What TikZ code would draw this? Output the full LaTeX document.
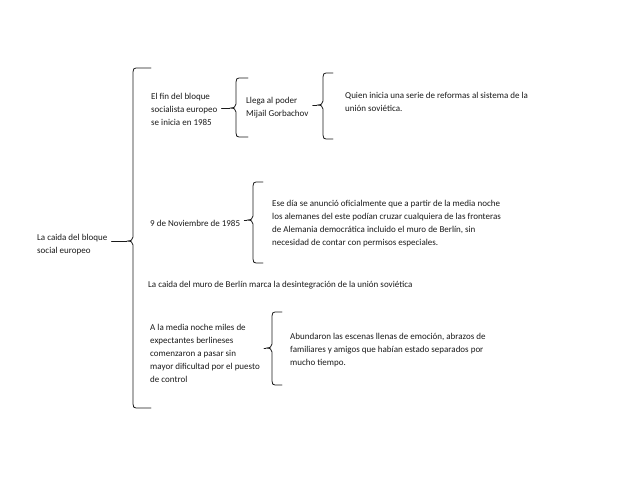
\documentclass[tikz,border=0pt]{standalone}
\usepackage{fontspec}
\setmainfont{Carlito}
\usepackage{tikz}
\usetikzlibrary{positioning,calc}
\definecolor{tinta}{HTML}{1A1A1A}
\tikzset{
    every picture/.style={line cap=round,line join=round},
    texto/.style={anchor=base west,align=left,text=tinta,
      font=\fontsize{9}{13}\selectfont,inner xsep=4pt,inner ysep=1pt},
    llavelinea/.style={draw=tinta,line width=0.8pt},
    enlace/.style={draw=tinta,line width=0.8pt}
}
% llave: #1 barra x, #2 arriba, #3 punta, #4 abajo, #5 largo del extremo
\newcommand\llave[5]{%
  \draw[llavelinea] ({#1+#5},#2) -- ({#1+3},#2)
    .. controls ({#1+1},#2) and (#1,{#2+1}) .. (#1,{#2+4})
    -- (#1,{#3-4}) .. controls (#1,{#3-1}) and ({#1-2},#3) .. ({#1-6},#3)
    .. controls ({#1-2},#3) and (#1,{#3+1}) .. (#1,{#3+4})
    -- (#1,{#4-4}) .. controls (#1,{#4-1}) and ({#1+1},#4) .. ({#1+3},#4)
    -- ({#1+#5},#4);
}

\begin{document}
\begin{tikzpicture}[x=1pt,y=-1pt]
    \useasboundingbox (0,0) rectangle (638,493);
    % llaves
    \llave{133}{68}{241}{408}{18}
    \llave{236}{78}{108}{137}{12}
    \llave{323}{73}{105}{139}{10}
    \llave{253}{182}{220}{263}{10}
    \llave{272}{312}{348}{385}{10}
    \coordinate (p0) at (127,241);
    \coordinate (p1) at (230,108);
    \coordinate (p2) at (317,105);
    \coordinate (p3) at (247,220);
    \coordinate (p4) at (266,348);
    % textos (base = ultima linea)
    \node[texto] (caida) at (33,253) {La caida del bloque\\social europeo};
    \node[texto] (fin) at (147,125) {El fin del bloque\\socialista europeo\\se inicia en 1985};
    \node[texto] (llega) at (242,116) {Llega al poder\\Mijail Gorbachov};
    \node[texto] (quien) at (341,111) {Quien inicia una serie de reformas al sistema de la\\unión soviética.};
    \node[texto] (nov) at (146,226) {9 de Noviembre de 1985};
    \node[texto] (dia) at (268,245) {Ese día se anunció oficialmente que a partir de la media noche\\los alemanes del este podían cruzar cualquiera de las fronteras\\de Alemania democrática incluido el muro de Berlín, sin\\necesidad de contar con permisos especiales.};
    \node[texto] (muro) at (144,287) {La caida del muro de Berlín marca la desintegración de la unión soviética};
    \node[texto] (media) at (146,382) {A la media noche miles de\\expectantes berlineses\\comenzaron a pasar sin\\mayor dificultad por el puesto\\de control};
    \node[texto] (abund) at (286,365) {Abundaron las escenas llenas de emoción, abrazos de\\familiares y amigos que habían estado separados por\\mucho tiempo.};
    % enlaces
    \draw[enlace] (caida.east |- p0) -- (p0);
    \draw[enlace] (fin.east |- p1) -- (p1);
    \draw[enlace] (llega.east |- p2) -- (p2);
    \draw[enlace] (nov.east |- p3) -- (p3);
    \draw[enlace] (media.east |- p4) -- (p4);
\end{tikzpicture}
\end{document}
